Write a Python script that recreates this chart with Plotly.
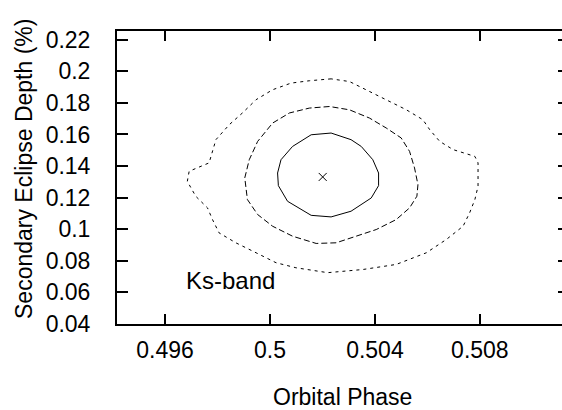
import plotly.graph_objects as go

# Best-fit point
best_phase = [0.50201]
best_depth = [0.1331]

# Inner contour (solid)
c1_phase = [0.50233, 0.50157, 0.50086, 0.50042, 0.50029, 0.50032, 0.50067, 0.50157,
            0.50233, 0.50309, 0.50386, 0.50414, 0.50414, 0.50392, 0.50348, 0.50309, 0.50233]
c1_depth = [0.1609, 0.1598, 0.1524, 0.1440, 0.1356, 0.1276, 0.1177, 0.1088,
            0.1078, 0.1114, 0.1198, 0.1276, 0.1356, 0.1440, 0.1524, 0.1567, 0.1609]

# Middle contour (dashed)
c2_phase = [0.50227, 0.50150, 0.50074, 0.50010, 0.49953, 0.49921, 0.49904, 0.49914,
            0.49953, 0.50010, 0.50086, 0.50176, 0.50252, 0.50329, 0.50405, 0.50481,
            0.50532, 0.50560, 0.50564, 0.50551, 0.50532, 0.50500, 0.50443, 0.50379,
            0.50303, 0.50227]
c2_depth = [0.1777, 0.1767, 0.1736, 0.1672, 0.1556, 0.1440, 0.1325, 0.1188,
            0.1093, 0.1019, 0.0956, 0.0910, 0.0914, 0.0956, 0.0998, 0.1061,
            0.1135, 0.1209, 0.1282, 0.1388, 0.1493, 0.1578, 0.1641, 0.1704,
            0.1756, 0.1777]

# Outer contour (dotted)
c3_phase = [0.50233, 0.50150, 0.50080, 0.50010, 0.49947, 0.49895, 0.49845, 0.49794,
            0.49768, 0.49692, 0.49685, 0.49717, 0.49762, 0.49781, 0.49806, 0.49870,
            0.49947, 0.50023, 0.50099, 0.50220, 0.50354, 0.50481, 0.50596, 0.50672,
            0.50736, 0.50761, 0.50781, 0.50793, 0.50793, 0.50781, 0.50698, 0.50647,
            0.50609, 0.50583, 0.50520, 0.50443, 0.50354, 0.50303, 0.50233]
c3_depth = [0.1952, 0.1940, 0.1925, 0.1883, 0.1820, 0.1736, 0.1662, 0.1567,
            0.1420, 0.1367, 0.1303, 0.1209, 0.1135, 0.1061, 0.0977, 0.0914,
            0.0851, 0.0788, 0.0756, 0.0725, 0.0745, 0.0777, 0.0851, 0.0935,
            0.1019, 0.1104, 0.1188, 0.1272, 0.1420, 0.1461, 0.1504, 0.1556,
            0.1630, 0.1693, 0.1756, 0.1820, 0.1894, 0.1935, 0.1952]

x_ticks = [0.496, 0.5, 0.504, 0.508]
x_ticklabels = ["0.496", "0.5", "0.504", "0.508"]
y_ticks = [0.04, 0.06, 0.08, 0.1, 0.12, 0.14, 0.16, 0.18, 0.2, 0.22]
y_ticklabels = ["0.04", "0.06", "0.08", "0.1", "0.12", "0.14", "0.16", "0.18", "0.2", "0.22"]

x_range = [0.49417, 0.51113]
y_range = [0.04, 0.2255]

FONT = "Liberation Sans, Arial, sans-serif"
FS = 23

fig = go.Figure()
fig.add_trace(go.Scatter(x=c3_phase, y=c3_depth, mode="lines",
                         line=dict(color="#000", width=1, dash="3px,4px"), hoverinfo="skip"))
fig.add_trace(go.Scatter(x=c2_phase, y=c2_depth, mode="lines",
                         line=dict(color="#000", width=1, dash="6px,3px"), hoverinfo="skip"))
fig.add_trace(go.Scatter(x=c1_phase, y=c1_depth, mode="lines",
                         line=dict(color="#000", width=1), hoverinfo="skip"))
fig.add_trace(go.Scatter(x=best_phase, y=best_depth, mode="markers",
                         marker=dict(symbol="x-thin", size=8, line=dict(color="#000", width=1)),
                         hoverinfo="skip"))
# invisible trace for right-side tick stubs
fig.add_trace(go.Scatter(x=[], y=[], yaxis="y2", showlegend=False))

fig.update_layout(
    width=562, height=410,
    margin=dict(l=117, r=0, t=31, b=86),
    paper_bgcolor="white", plot_bgcolor="white",
    showlegend=False,
    font=dict(family=FONT, size=FS, color="#000"),
    xaxis=dict(range=x_range, tickvals=x_ticks, ticktext=x_ticklabels,
               ticks="inside", ticklen=10, tickwidth=1.5, tickcolor="#000",
               showline=True, linewidth=2, linecolor="#000", mirror="ticks",
               showgrid=False, zeroline=False, ticklabelstandoff=4,
               tickfont=dict(family=FONT, size=FS)),
    yaxis=dict(range=y_range, tickvals=y_ticks, ticktext=y_ticklabels,
               ticks="inside", ticklen=11, tickwidth=1.5, tickcolor="#000",
               showline=True, linewidth=2, linecolor="#000", mirror=False,
               showgrid=False, zeroline=False, ticklabelstandoff=20,
               tickfont=dict(family=FONT, size=FS)),
    yaxis2=dict(range=y_range, tickvals=y_ticks, overlaying="y", side="right", anchor="x",
                ticks="inside", ticklen=4, tickwidth=1.5, tickcolor="#000",
                showticklabels=False, showline=False, showgrid=False, zeroline=False),
    annotations=[
        dict(text="Ks-band", x=0.49673, y=0.0676, xref="x", yref="y",
             xanchor="left", yanchor="middle", showarrow=False,
             font=dict(family=FONT, size=24)),
        dict(text="Orbital Phase", x=(342.5 - 117) / 445, y=(324 - 397) / 293,
             xref="paper", yref="paper", xanchor="center", yanchor="middle",
             showarrow=False, font=dict(family=FONT, size=FS)),
        dict(text="Secondary Eclipse Depth (%)", x=(24 - 117) / 445, y=(324 - 169) / 293,
             xref="paper", yref="paper", xanchor="center", yanchor="middle",
             textangle=-90, showarrow=False, font=dict(family=FONT, size=FS)),
    ],
)

fig.write_html("out.html")
